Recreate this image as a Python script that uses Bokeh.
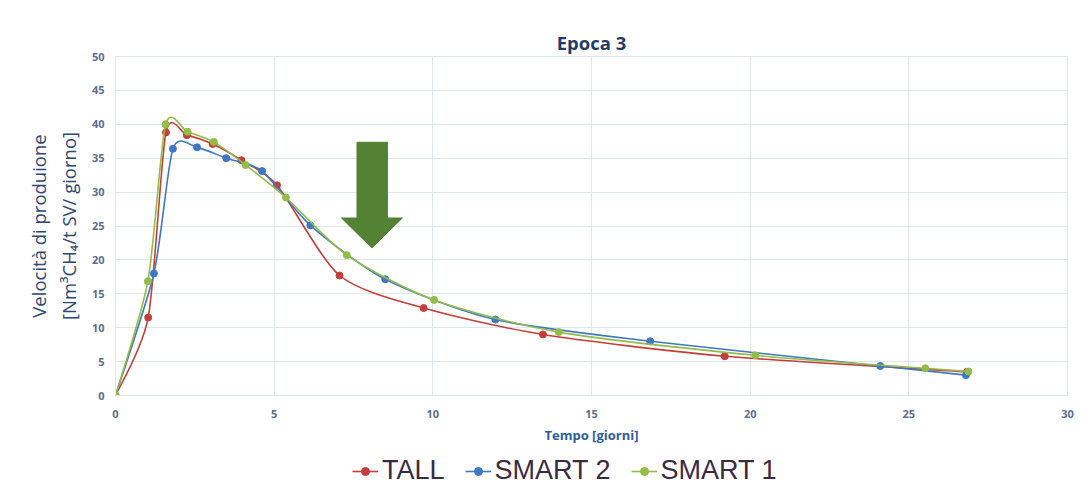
import numpy as np
from bokeh.plotting import figure
from bokeh.layouts import column
from bokeh.models import Range1d, SingleIntervalTicker, Legend, LegendItem, ColumnDataSource
from bokeh.embed import file_html
from bokeh.resources import INLINE

# ---- data ----
SERIES = ["TALL", "SMART 2", "SMART 1"]
COLORS = ["#c43e3a", "#3f78c2", "#92bd48"]

TALL_X = [0, 1.03, 1.59, 2.25, 3.06, 3.97, 5.09, 7.06, 9.71, 13.47, 19.2, 26.83]
TALL_Y = [0, 11.5, 38.8, 38.4, 37.1, 34.7, 31.0, 17.7, 12.9, 9.0, 5.8, 3.5]

SMART2_X = [0, 1.21, 1.81, 2.57, 3.49, 4.62, 6.14, 8.5, 11.97, 16.85, 24.1, 26.8]
SMART2_Y = [0, 18.0, 36.4, 36.6, 35.0, 33.1, 25.1, 17.15, 11.2, 8.0, 4.35, 3.0]

SMART1_X = [0, 1.02, 1.58, 2.27, 3.1, 4.1, 5.37, 7.29, 10.04, 13.97, 20.16, 25.52, 26.88]
SMART1_Y = [0, 16.85, 40.0, 38.9, 37.4, 34.0, 29.2, 20.7, 14.1, 9.35, 5.93, 4.01, 3.53]

X_TICKS = [0, 5, 10, 15, 20, 25, 30]
Y_TICKS = [0, 5, 10, 15, 20, 25, 30, 35, 40, 45, 50]

# decorative arrow outline (data coordinates)
ARROW_X = [7.61, 8.57, 8.57, 9.04, 8.08, 7.12, 7.61]
ARROW_Y = [37.35, 37.35, 26.18, 26.18, 21.76, 26.18, 26.18]

TITLE = "Epoca 3"
X_LABEL = "Tempo [giorni]"
Y_LABEL = "Velocità di produione\n[Nm³CH₄/t SV/ giorno]"

SMOOTH = 1.0 / 8.0


def bezier_source(xs, ys):
    x = np.asarray(xs, float)
    y = np.asarray(ys, float)
    n = len(x)
    d = dict(x0=[], y0=[], x1=[], y1=[], cx0=[], cy0=[], cx1=[], cy1=[])
    for i in range(n - 1):
        a = max(i - 1, 0)
        b = min(i + 2, n - 1)
        d["x0"].append(x[i]); d["y0"].append(y[i])
        d["x1"].append(x[i + 1]); d["y1"].append(y[i + 1])
        d["cx0"].append(x[i] + (x[i + 1] - x[a]) * SMOOTH)
        d["cy0"].append(y[i] + (y[i + 1] - y[a]) * SMOOTH)
        d["cx1"].append(x[i + 1] - (x[b] - x[i]) * SMOOTH)
        d["cy1"].append(y[i + 1] - (y[b] - y[i]) * SMOOTH)
    return ColumnDataSource(d)


GRID = "#dde6f1"
TICK_COLOR = "#5a6e90"

p = figure(width=1085, height=450, output_backend="svg", toolbar_location=None,
           x_range=Range1d(0, 30), y_range=Range1d(0, 50),
           min_border_left=115, min_border_right=18, min_border_top=56, min_border_bottom=55)

p.title.text = TITLE
p.title.align = "center"
p.title.text_font = "Open Sans"
p.title.text_font_size = "18.5px"
p.title.text_font_style = "bold"
p.title.text_color = "#1f3c66"
p.title.standoff = 3

p.outline_line_color = GRID
p.background_fill_color = "white"
p.border_fill_color = "white"

p.xaxis.ticker = SingleIntervalTicker(interval=5)
p.yaxis.ticker = SingleIntervalTicker(interval=5)
p.xgrid.ticker = p.xaxis.ticker
p.ygrid.ticker = p.yaxis.ticker
p.grid.grid_line_color = GRID
p.grid.grid_line_width = 1

for ax in (p.xaxis, p.yaxis):
    ax.axis_line_color = GRID
    ax.major_tick_line_color = None
    ax.minor_tick_line_color = None
    ax.major_tick_out = 0
    ax.major_tick_in = 0
    ax.major_label_text_font = "Open Sans"
    ax.major_label_text_font_size = "11px"
    ax.major_label_text_font_style = "bold"
    ax.major_label_text_color = TICK_COLOR

p.xaxis.major_label_standoff = 10
p.yaxis.major_label_standoff = 7

p.xaxis.axis_label = X_LABEL
p.xaxis.axis_label_text_font = "Open Sans"
p.xaxis.axis_label_text_font_size = "13px"
p.xaxis.axis_label_text_font_style = "bold"
p.xaxis.axis_label_text_color = "#2f5c9e"
p.xaxis.axis_label_standoff = 5

p.yaxis.axis_label = Y_LABEL
p.yaxis.axis_label_text_font = "Open Sans"
p.yaxis.axis_label_text_font_size = "18.5px"
p.yaxis.axis_label_text_font_style = "normal"
p.yaxis.axis_label_text_color = "#2e4770"
p.yaxis.axis_label_standoff = 8

# arrow
p.patch(ARROW_X, ARROW_Y, fill_color="#548235", line_color="#548235", line_width=1)

# legend strip below the chart (renderers there lie outside its visible range)
pl = figure(width=1085, height=35, output_backend="svg", toolbar_location=None,
            x_range=Range1d(0, 30), y_range=Range1d(1000, 1001),
            x_axis_location=None, y_axis_location=None,
            min_border_left=0, min_border_right=0, min_border_top=0, min_border_bottom=0)
pl.grid.visible = False
pl.outline_line_color = None
pl.background_fill_color = "white"
pl.border_fill_color = "white"

items = []
for name, xs, ys, col in zip(SERIES, [TALL_X, SMART2_X, SMART1_X],
                             [TALL_Y, SMART2_Y, SMART1_Y], COLORS):
    src = bezier_source(xs, ys)
    kw = dict(x0="x0", y0="y0", x1="x1", y1="y1", cx0="cx0", cy0="cy0",
              cx1="cx1", cy1="cy1", source=src, line_color=col, line_width=1.6)
    p.bezier(**kw)
    p.scatter(xs, ys, size=7, fill_color=col, line_color=col)
    lb = pl.bezier(**kw)
    ls = pl.scatter(xs, ys, size=6, fill_color=col, line_color=col)
    items.append(LegendItem(label=name, renderers=[lb, ls]))

legend = Legend(items=items, orientation="horizontal", location=(237, -1),
                label_text_font="Liberation Sans", label_text_font_size="27px",
                label_text_color="#3b2b42", glyph_width=26, label_standoff=4,
                spacing=20, padding=0, margin=0,
                border_line_color=None, background_fill_alpha=0)
pl.add_layout(legend, "center")

layout = column(p, pl, spacing=0)
open("out.html", "w").write(file_html(layout, INLINE))
